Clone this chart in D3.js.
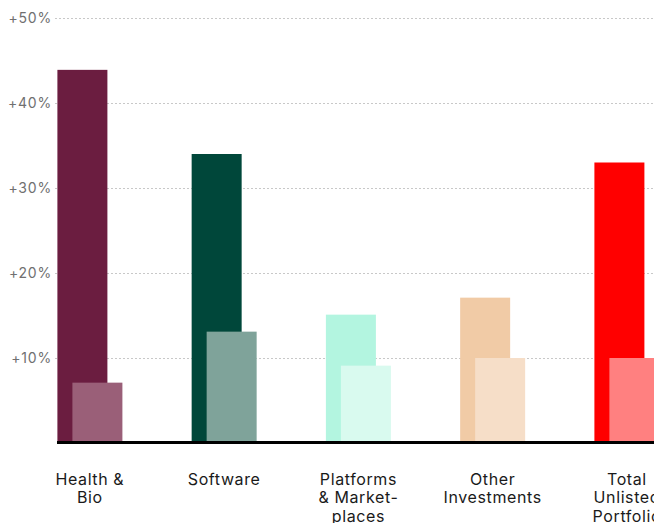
<!DOCTYPE html>
<html><head><meta charset="utf-8">
<script src="https://cdn.jsdelivr.net/npm/d3@7"></script>
<style>
html,body{margin:0;padding:0;background:#fff;overflow:hidden;}
svg{display:block;font-family:Inter,"Noto Sans",sans-serif;}
</style></head>
<body>
<svg id="chart" width="654" height="523"></svg>
<script>
const categories = [["Health &","Bio"],["Software"],["Platforms","& Market-","places"],["Other","Investments"],["Total","Unlisted","Portfolio"]];
const catKeys = ["Health & Bio","Software","Platforms & Marketplaces","Other Investments","Total Unlisted Portfolio"];
const seriesA = [43.9, 34.0, 15.1, 17.1, 33.0];
const seriesB = [7.1, 13.1, 9.1, 10.0, 10.0];
const colorsA = ["#6B1D40","#00473A","#B3F5E0","#F1CBA6","#FF0000"];
const colorsB = ["#9A5F78","#7FA39A","#D9FAEF","#F6DEC8","#FF8080"];
const yTicks = [10,20,30,40,50];
const yTickLabels = ["+10%","+20%","+30%","+40%","+50%"];

const svg = d3.select("#chart");
const y = d3.scaleLinear().domain([0,50]).range([443,18]);
const step = 134.25, groupW = 65, barW = 50, offset = 15, x0 = 57.4;
const x = d3.scaleBand().domain(catKeys)
  .range([x0 - (step-groupW)/2, x0 - (step-groupW)/2 + step*5])
  .paddingInner((step-groupW)/step).paddingOuter((step-groupW)/step/2);

// gridlines
svg.append("g").selectAll("line").data(yTicks).join("line")
  .attr("x1",55).attr("x2",654)
  .attr("y1",d=>y(d)+0.5).attr("y2",d=>y(d)+0.5)
  .attr("stroke","#c8c8c8").attr("stroke-width",1).attr("stroke-dasharray","2,2");

// y labels
svg.append("g").selectAll("text").data(yTicks).join("text")
  .attr("x",52).attr("y",d=>y(d)).attr("dy","0.35em")
  .attr("text-anchor","end").attr("font-size",14).attr("letter-spacing","0.8px").attr("fill","#707070")
  .text((d,i)=>yTickLabels[i]);

// bars
svg.append("g").selectAll("rect").data(catKeys).join("rect")
  .attr("x",d=>x(d)).attr("width",barW)
  .attr("y",(d,i)=>y(seriesA[i])).attr("height",(d,i)=>y(0)-y(seriesA[i]))
  .attr("fill",(d,i)=>colorsA[i]);
svg.append("g").selectAll("rect").data(catKeys).join("rect")
  .attr("x",d=>x(d)+offset).attr("width",barW)
  .attr("y",(d,i)=>y(seriesB[i])).attr("height",(d,i)=>y(0)-y(seriesB[i]))
  .attr("fill",(d,i)=>colorsB[i]);

// baseline
svg.append("line").attr("x1",57).attr("x2",654).attr("y1",y(0)-0.5).attr("y2",y(0)-0.5)
  .attr("stroke","#000").attr("stroke-width",3);

// category labels
const lab = svg.append("g").selectAll("text").data(catKeys).join("text")
  .attr("text-anchor","middle").attr("font-size",16).attr("letter-spacing","0.6px").attr("fill","#1a1a1a")
  .attr("x",d=>x(d)+x.bandwidth()/2).attr("y",485);
lab.each(function(d,i){
  d3.select(this).selectAll("tspan").data(categories[i]).join("tspan")
    .attr("x",x(d)+x.bandwidth()/2).attr("dy",(t,j)=>j===0?0:18.3).text(t=>t);
});
</script>
</body></html>
